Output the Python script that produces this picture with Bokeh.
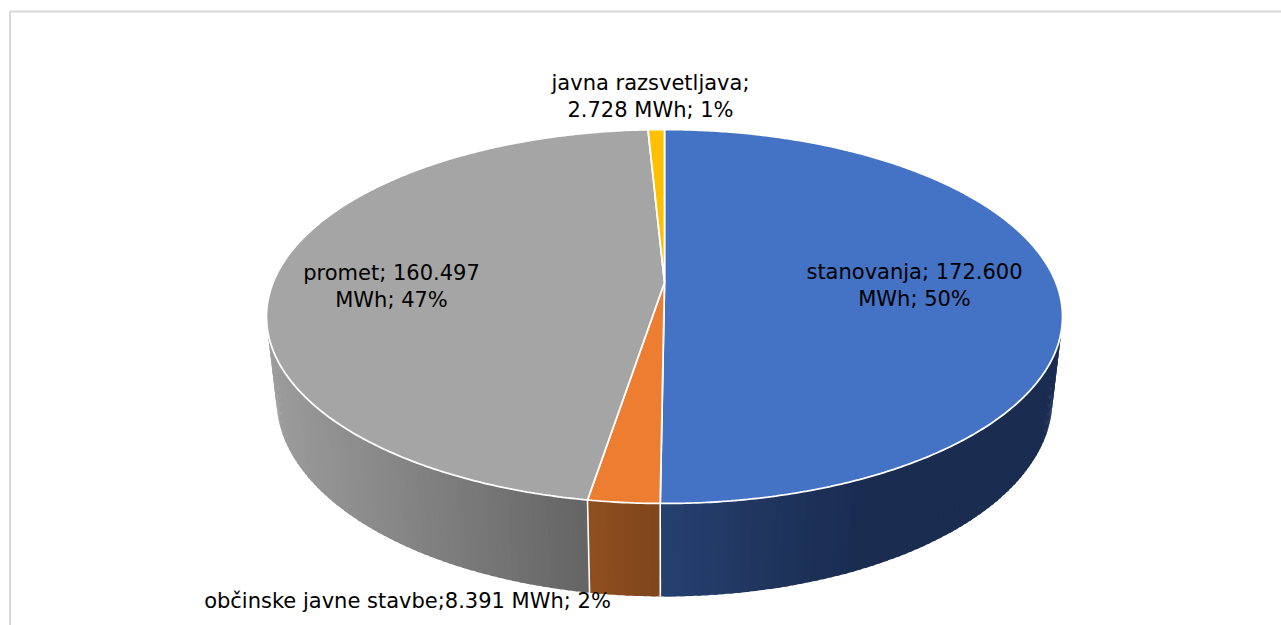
from bokeh.plotting import figure
from bokeh.models import Range1d
from bokeh.core.properties import value
from bokeh.embed import file_html
from bokeh.resources import INLINE
import numpy as np

categories = ["stanovanja", "občinske javne stavbe", "promet", "javna razsvetljava"]
values_mwh = [172600, 8391, 160497, 2728]
top_colors = ["#4472C4", "#ED7D31", "#A5A5A5", "#FFC000"]
wall_shades = [("#26406F", "#1A2C50", 660, 860), ("#8F4E1F", "#7F451C", 589, 660), ("#9C9C9C", "#646464", 268, 587), ("#888888", "#888888", 0, 1)]
label_lines = [
    ["stanovanja; 172.600", "MWh; 50%"],
    ["občinske javne stavbe;8.391 MWh; 2%"],
    ["promet; 160.497", "MWh; 47%"],
    ["javna razsvetljava;", "2.728 MWh; 1%"],
]
label_xy = [(914, 271), (407, 600), (391, 272), (650, 82)]
LINE_H = 27
FONT = "DejaVu Sans"
FONT_SIZE = "21px"

W, H = 1281, 625
OX, OY = 0, 0
p = figure(width=W, height=H, x_range=Range1d(OX, OX + W), y_range=Range1d(OY + H, OY),
           output_backend="svg", toolbar_location=None, min_border=0)
p.axis.visible = False
p.grid.visible = False
p.outline_line_color = None
p.background_fill_color = "#FFFFFF"

CX = 664.0
TOP = dict(cy=282.0, a=391.4, b=180.8, k=0.1818)
BOT = dict(cy=363.5, a=381.6, b=190.6, k=0.18)


def proj(theta, plane):
    u, v = np.sin(theta), np.cos(theta)
    d = 1 + plane["k"] * v
    return CX + plane["a"] * u / d, plane["cy"] - plane["b"] * v / d


def mix(c1, c2, t):
    t = min(1.0, max(0.0, t))
    a = [int(c1[i:i + 2], 16) for i in (1, 3, 5)]
    b = [int(c2[i:i + 2], 16) for i in (1, 3, 5)]
    return "#%02X%02X%02X" % tuple(round(x + (y - x) * t) for x, y in zip(a, b))


total = sum(values_mwh)
edges = np.concatenate([[0.0], np.cumsum(values_mwh) / total]) * 2 * np.pi

xs_w, ys_w, cols_w, rank = [], [], [], []
OVER = np.radians(0.5)
for i, (t0, t1) in enumerate(zip(edges[:-1], edges[1:])):
    lo = max(t0, np.radians(60))
    hi = min(t1, np.radians(300))
    if hi <= lo:
        continue
    n = max(2, int(np.degrees(hi - lo)))
    g = np.linspace(lo, hi, n + 1)
    c1, c2, x1, x2 = wall_shades[i]
    for a0, a1 in zip(g[:-1], g[1:]):
        if (a0 + a1) / 2 < np.pi:
            e0, e1 = a0, min(a1 + OVER, hi)
        else:
            e0, e1 = max(a0 - OVER, lo), a1
        tx0, ty0 = proj(e0, TOP)
        tx1, ty1 = proj(e1, TOP)
        bx0, by0 = proj(e0, BOT)
        bx1, by1 = proj(e1, BOT)
        xs_w.append([tx0, tx1, bx1, bx0])
        ys_w.append([ty0, ty1, by1, by0])
        mx = proj((a0 + a1) / 2, TOP)[0]
        cols_w.append(mix(c1, c2, (mx - x1) / (x2 - x1)))
        rank.append(-abs((a0 + a1) / 2 - np.pi))
order = np.argsort(rank)
p.patches([xs_w[j] for j in order], [ys_w[j] for j in order],
          fill_color=[cols_w[j] for j in order], line_color=None)

for e in edges[1:-1]:
    if np.radians(90) < e < np.radians(270):
        tx, ty = proj(e, TOP)
        bx, by = proj(e, BOT)
        p.line([tx, bx], [ty, by], line_color="#FFFFFF", line_width=1.6)

for i, (t0, t1) in enumerate(zip(edges[:-1], edges[1:])):
    g = np.linspace(t0, t1, max(3, int(np.degrees(t1 - t0) * 2)))
    x, y = proj(g, TOP)
    p.patch(np.r_[CX, x], np.r_[TOP["cy"], y], fill_color=top_colors[i],
            line_color="#FFFFFF", line_width=1.8)

p.line([9.5, 9.5], [OY + H, 11], line_color="#D9D9D9", line_width=2)
p.line([9.5, OX + W], [11, 11], line_color="#D9D9D9", line_width=2)

tx, ty, tt = [], [], []
for lines, (lx, ly) in zip(label_lines, label_xy):
    for j, s in enumerate(lines):
        tx.append(lx)
        ty.append(ly + j * LINE_H)
        tt.append(s)
p.text(tx, ty, text=tt, text_font=value(FONT), text_font_size=value(FONT_SIZE), text_color="#000000",
       text_align="center", text_baseline="middle")

open("out.html", "w").write(file_html(p, INLINE))
